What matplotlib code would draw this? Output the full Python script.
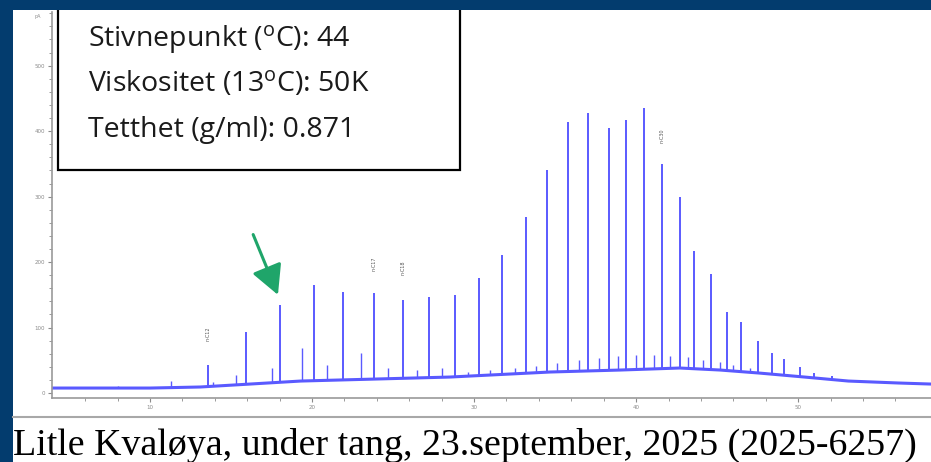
import numpy as np
import matplotlib.pyplot as plt
from matplotlib.patches import Rectangle
from matplotlib.lines import Line2D

# %% data

# n-alkane peaks: retention time (min) and top of peak (pA)
peak_t = [13.6, 15.9, 18.0, 20.1, 21.9, 23.8, 25.6, 27.2, 28.8, 30.3, 31.7,
          33.2, 34.5, 35.8, 37.0, 38.3, 39.4, 40.5, 41.6, 42.7, 43.6, 44.6,
          45.6, 46.5, 47.5, 48.4, 49.1, 50.1, 51.0, 52.1]
peak_h = [43, 93, 134, 165, 154, 153, 142, 147, 150, 176, 211, 269, 341,
          414, 428, 405, 417, 435, 350, 299, 217, 182, 124, 108, 79, 61, 52,
          40, 31, 26]

# smaller peaks between the alkanes
minor_t = [8.0, 11.3, 13.9, 15.3, 17.5, 19.4, 20.9, 23.0, 24.7, 26.5, 28.0,
           29.6, 31.0, 32.5, 33.8, 35.1, 36.5, 37.7, 38.9, 40.0, 41.1, 42.1,
           43.2, 44.1, 45.2, 46.0, 47.0]
minor_h = [10, 18, 17, 28, 38, 69, 43, 61, 38, 35, 38, 32, 35, 38, 41, 46,
           50, 53, 56, 58, 58, 56, 55, 50, 47, 43, 38]

# baseline drift
base_t = [4.0, 10.0, 13.1, 19.3, 28.5, 34.7, 39.0, 42.7, 45.2, 47.6, 50.4,
          53.1, 56.2, 58.2]
base_h = [7.6, 7.6, 9.2, 18.3, 24.4, 32.1, 35.1, 38.2, 35.1, 30.5, 24.4,
          18.3, 15.3, 13.7]

label_t = [13.6, 23.8, 25.6, 41.6]
label_y = [90, 197, 191, 393]
label_txt = ["n-C12", "n-C17", "n-C18", "n-C30"]

info = [r"Stivnepunkt ($\mathregular{^o}$C): 44",
        r"Viskositet (13$\mathregular{^o}$C): 50K",
        "Tetthet (g/ml): 0.871"]
caption = "Litle Kvaløya, under tang, 23.september, 2025 (2025-6257)"

navy = "#033c6e"
blue = "#5a5aff"
W, H = 931, 462


def fx(px):
    return px / W


def fy(py):
    return 1 - py / H


# %% figure

fig = plt.figure(figsize=(W / 100, H / 100), dpi=100, facecolor=navy)
fig.add_artist(Rectangle((fx(13), 0), 1 - fx(13), fy(10), transform=fig.transFigure,
                         facecolor="white", edgecolor="none", zorder=-1))

ax = fig.add_axes([fx(52), fy(398), 1 - fx(52), fy(12) - fy(398)])
ax.set_facecolor("none")

base_at_peak = np.interp(peak_t, base_t, base_h)
base_at_minor = np.interp(minor_t, base_t, base_h)
ax.plot(base_t, base_h, color=blue, lw=2.2)
ax.vlines(minor_t, base_at_minor, minor_h, color=blue, lw=1.0)
ax.vlines(peak_t, base_at_peak, peak_h, color=blue, lw=1.4)

for t, y, s in zip(label_t, label_y, label_txt):
    ax.text(t, y, s, rotation=90, fontsize=3.5, color="#555555",
            ha="center", va="center")

ax.annotate("", xy=(17.96, 146), xytext=(16.3, 246),
            arrowprops=dict(arrowstyle="-|>,head_length=1.8,head_width=0.95",
                            color="#1fa56a", lw=2.2))

ax.set_xlim(3.95, 58.2)
ax.set_ylim(-7.6, 582)
ax.set_xticks([10, 20, 30, 40, 50])
ax.set_xticks(np.arange(6, 58, 2), minor=True)
ax.set_yticks([0, 100, 200, 300, 400, 500])
ax.set_yticks(np.arange(0, 581, 20), minor=True)
ax.tick_params(colors="#8a8a8a", labelsize=4, length=3, width=0.8, pad=2)
ax.tick_params(which="minor", colors="#8a8a8a", length=2, width=0.6)
for side in ["top", "right"]:
    ax.spines[side].set_visible(False)
for side in ["left", "bottom"]:
    ax.spines[side].set_color("#9a9a9a")
    ax.spines[side].set_linewidth(1.2)
ax.text(-0.012, 0.995, "pA", transform=ax.transAxes, fontsize=3.5,
        color="#8a8a8a", ha="right", va="top")

# info box
fig.add_artist(Rectangle((fx(58), fy(170)), fx(460) - fx(58), fy(2) - fy(170),
                         transform=fig.transFigure, facecolor="white",
                         edgecolor="black", lw=1.6, zorder=5))
for i, line in enumerate(info):
    fig.text(fx(88), fy(46 + 45.5 * i), line, fontsize=20.5, family="Open Sans",
             va="baseline", color="#1a1a1a", zorder=6)

fig.add_artist(Rectangle((0, fy(10)), 1, 10 / H, transform=fig.transFigure,
                         facecolor=navy, edgecolor="none", zorder=10))

fig.add_artist(Line2D([fx(13), 1], [fy(417), fy(417)], transform=fig.transFigure,
                      color="#a8a8a8", lw=1.5))
fig.text(fx(13), fy(455), caption, fontsize=27.3, family="Liberation Serif",
         va="baseline", color="black")

fig.savefig("out.png", dpi=100, facecolor=navy)
